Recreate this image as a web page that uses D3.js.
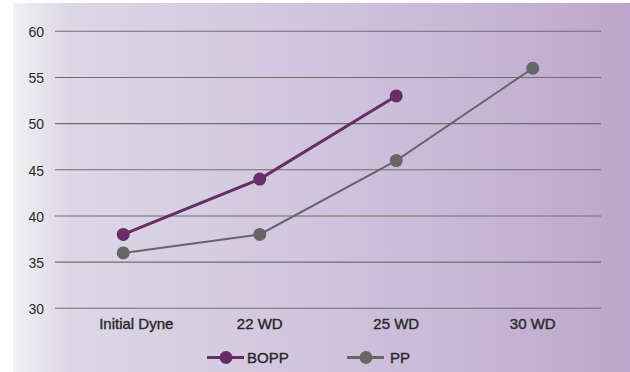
<!DOCTYPE html>
<html>
<head>
<meta charset="utf-8">
<script src="https://cdn.jsdelivr.net/npm/d3@7"></script>
<style>
  html, body { margin: 0; padding: 0; background: #ffffff; }
  svg { display: block; }
</style>
</head>
<body>
<svg id="chart" width="630" height="372"></svg>
<script>
// Treatment stages along the x axis
const categories = ["Initial Dyne", "22 WD", "25 WD", "30 WD"];
// Surface energy readings per film type (null = not measured)
const boppValues = [38, 44, 53, null];
const ppValues = [36, 38, 46, 56];
// Y axis ticks
const yTicks = [30, 35, 40, 45, 50, 55, 60];

const seriesList = [
  { name: "BOPP", values: boppValues, color: "#682c66", width: 3 },
  { name: "PP", values: ppValues, color: "#666666", width: 2 }
];

const svg = d3.select("#chart");
const W = 630, H = 372;

// Background panel with a soft grey-to-lilac gradient
const defs = svg.append("defs");
const grad = defs.append("linearGradient").attr("id", "bg").attr("x1", "0").attr("x2", "1").attr("y1", "0").attr("y2", "0");
[["0%", "#f1f1f3"], ["9%", "#dcd7e6"], ["45%", "#d1c7df"], ["80%", "#c6b3d4"], ["100%", "#bea5cb"]]
  .forEach(([o, c]) => grad.append("stop").attr("offset", o).attr("stop-color", c));
svg.append("rect").attr("x", 13).attr("y", 3).attr("width", W - 13).attr("height", H - 3).attr("fill", "url(#bg)");

const plotLeft = 55, plotRight = 601, plotTop = 31.3, plotBottom = 308.3;
const x = d3.scaleBand().domain(categories).range([plotLeft, plotRight]);
const y = d3.scaleLinear().domain([30, 60]).range([plotBottom, plotTop]);

const font = "'Liberation Sans', Arial, Helvetica, sans-serif";
const textColor = "#2a2a2a";

// Horizontal gridlines
svg.append("g").selectAll("line").data(yTicks).join("line")
  .attr("x1", plotLeft).attr("x2", plotRight)
  .attr("y1", d => y(d)).attr("y2", d => y(d))
  .attr("stroke", "#6e6e6e").attr("stroke-width", 1.1);

// Y axis labels
const yAxis = svg.append("g").attr("transform", `translate(${plotLeft},0)`)
  .call(d3.axisLeft(y).tickValues(yTicks).tickSize(0).tickPadding(11));
yAxis.select(".domain").remove();
yAxis.selectAll("text").attr("font-family", font).attr("font-size", 14).attr("fill", textColor).attr("dy", "0.38em");

// X axis labels (medium weight, approximated with a thin outline);
// the first, longer label sits a little right of its point
const xAxis = svg.append("g").attr("transform", `translate(0,${plotBottom})`)
  .call(d3.axisBottom(x).tickSize(0));
xAxis.select(".domain").remove();
xAxis.selectAll("text").attr("y", 21).attr("dy", 0)
  .attr("dx", (d, i) => i === 0 ? 13 : 0)
  .attr("font-family", font).attr("font-size", 15).attr("fill", textColor)
  .attr("stroke", textColor).attr("stroke-width", 0.4);

const cx = d => x(d) + x.bandwidth() / 2;

// Series lines and markers
seriesList.slice().reverse().forEach(s => {
  const pts = categories.map((c, i) => ({ c, v: s.values[i] })).filter(p => p.v != null);
  const line = d3.line().x(p => cx(p.c)).y(p => y(p.v));
  svg.append("path").datum(pts).attr("d", line)
    .attr("fill", "none").attr("stroke", s.color).attr("stroke-width", s.width);
  svg.append("g").selectAll("circle").data(pts).join("circle")
    .attr("cx", p => cx(p.c)).attr("cy", p => y(p.v)).attr("r", 6.5).attr("fill", s.color);
});

// Legend
const legendY = 357.5;
const legendX = [207, 347];
seriesList.forEach((s, i) => {
  const g = svg.append("g").attr("transform", `translate(${legendX[i]},${legendY})`);
  g.append("line").attr("x1", 0).attr("x2", 37).attr("y1", 0).attr("y2", 0)
    .attr("stroke", s.color).attr("stroke-width", 3);
  g.append("circle").attr("cx", 19).attr("cy", 0).attr("r", 6.5).attr("fill", s.color);
  g.append("text").attr("x", i === 0 ? 40 : 43).attr("y", 0).attr("dy", "0.36em")
    .attr("font-family", font).attr("font-size", 15).attr("fill", textColor)
    .attr("stroke", textColor).attr("stroke-width", 0.4)
    .text(s.name);
});
</script>
</body>
</html>
